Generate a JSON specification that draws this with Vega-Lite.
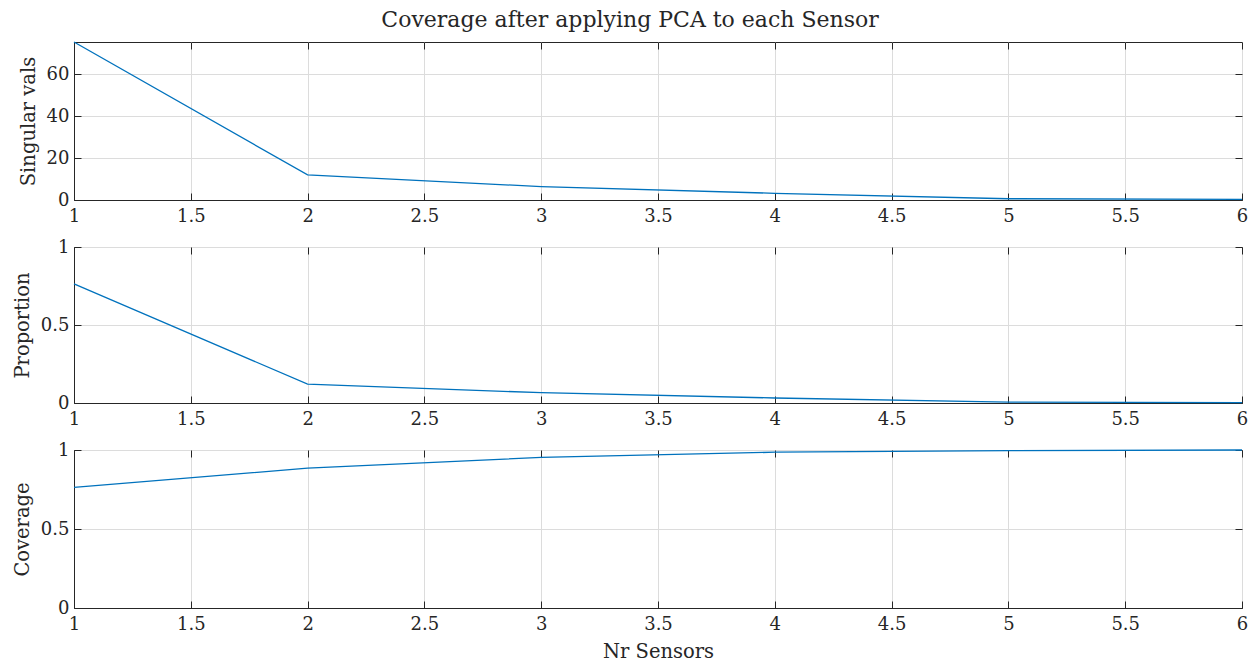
{
  "$schema": "https://vega.github.io/schema/vega-lite/v6.json",
  "background": "white",
  "padding": {"left": 11, "top": 8, "right": 5, "bottom": 5},
  "title": {"text": "Coverage after applying PCA to each Sensor", "font": "DejaVu Serif", "fontSize": 22, "fontWeight": "normal", "color": "#262626", "anchor": "middle", "offset": 7},
  "datasets": {
    "pca": [
      {"n": 1, "sv": 75.5, "prop": 0.764, "cov": 0.764},
      {"n": 2, "sv": 12.0, "prop": 0.121, "cov": 0.885},
      {"n": 3, "sv": 6.4, "prop": 0.066, "cov": 0.953},
      {"n": 4, "sv": 3.2, "prop": 0.032, "cov": 0.986},
      {"n": 5, "sv": 0.6, "prop": 0.006, "cov": 0.996},
      {"n": 6, "sv": 0.3, "prop": 0.003, "cov": 1.0}
    ]
  },
  "data": {"name": "pca"},
  "config": {
    "font": "DejaVu Serif",
    "view": {"stroke": "#262626", "strokeWidth": 1},
    "axis": {
      "labelFont": "DejaVu Serif", "labelFontSize": 18, "labelColor": "#262626",
      "titleFont": "DejaVu Serif", "titleFontSize": 19.5, "titleFontWeight": "normal", "titleColor": "#262626",
      "domainColor": "#262626", "tickColor": "#262626", "gridColor": "#dcdcdc", "gridWidth": 1,
      "tickSize": -7, "labelPadding": 12, "titlePadding": 8, "labelFlush": false, "labelOverlap": false
    },
    "axisX": {"labelPadding": 14}
  },
  "bounds": "flush",
  "spacing": 47,
  "vconcat": [
    {
      "width": 1168, "height": 158,
      "layer": [
        {"mark": {"type": "line", "color": "#0072BD", "strokeWidth": 1.3},
         "encoding": {
           "x": {"field": "n", "type": "quantitative", "scale": {"domain": [1, 6], "nice": false}, "axis": {"values": [1, 1.5, 2, 2.5, 3, 3.5, 4, 4.5, 5, 5.5, 6], "format": "~g", "title": null}},
           "y": {"field": "sv", "type": "quantitative", "scale": {"domain": [0, 75.5], "nice": false}, "axis": {"values": [0, 20, 40, 60], "title": "Singular vals"}}
         }},
        {"mark": {"type": "line", "opacity": 0},
         "encoding": {
           "x": {"field": "n", "type": "quantitative", "axis": {"orient": "top", "values": [1, 1.5, 2, 2.5, 3, 3.5, 4, 4.5, 5, 5.5, 6], "labels": false, "grid": false, "domain": false, "title": null}},
           "y": {"field": "sv", "type": "quantitative", "axis": {"orient": "right", "values": [0, 20, 40, 60], "labels": false, "grid": false, "domain": false, "title": null}}
         }}
      ],
      "resolve": {"axis": {"x": "independent", "y": "independent"}}
    },
    {
      "width": 1168, "height": 156,
      "layer": [
        {"mark": {"type": "line", "color": "#0072BD", "strokeWidth": 1.3},
         "encoding": {
           "x": {"field": "n", "type": "quantitative", "scale": {"domain": [1, 6], "nice": false}, "axis": {"values": [1, 1.5, 2, 2.5, 3, 3.5, 4, 4.5, 5, 5.5, 6], "format": "~g", "title": null}},
           "y": {"field": "prop", "type": "quantitative", "scale": {"domain": [0, 1], "nice": false}, "axis": {"values": [0, 0.5, 1], "format": "~g", "title": "Proportion"}}
         }},
        {"mark": {"type": "line", "opacity": 0},
         "encoding": {
           "x": {"field": "n", "type": "quantitative", "axis": {"orient": "top", "values": [1, 1.5, 2, 2.5, 3, 3.5, 4, 4.5, 5, 5.5, 6], "labels": false, "grid": false, "domain": false, "title": null}},
           "y": {"field": "prop", "type": "quantitative", "axis": {"orient": "right", "values": [0, 0.5, 1], "labels": false, "grid": false, "domain": false, "title": null}}
         }}
      ],
      "resolve": {"axis": {"x": "independent", "y": "independent"}}
    },
    {
      "width": 1168, "height": 158,
      "layer": [
        {"mark": {"type": "line", "color": "#0072BD", "strokeWidth": 1.3},
         "encoding": {
           "x": {"field": "n", "type": "quantitative", "scale": {"domain": [1, 6], "nice": false}, "axis": {"values": [1, 1.5, 2, 2.5, 3, 3.5, 4, 4.5, 5, 5.5, 6], "format": "~g", "title": "Nr Sensors", "titlePadding": 9}},
           "y": {"field": "cov", "type": "quantitative", "scale": {"domain": [0, 1], "nice": false}, "axis": {"values": [0, 0.5, 1], "format": "~g", "title": "Coverage"}}
         }},
        {"mark": {"type": "line", "opacity": 0},
         "encoding": {
           "x": {"field": "n", "type": "quantitative", "axis": {"orient": "top", "values": [1, 1.5, 2, 2.5, 3, 3.5, 4, 4.5, 5, 5.5, 6], "labels": false, "grid": false, "domain": false, "title": null}},
           "y": {"field": "cov", "type": "quantitative", "axis": {"orient": "right", "values": [0, 0.5, 1], "labels": false, "grid": false, "domain": false, "title": null}}
         }}
      ],
      "resolve": {"axis": {"x": "independent", "y": "independent"}}
    }
  ]
}
